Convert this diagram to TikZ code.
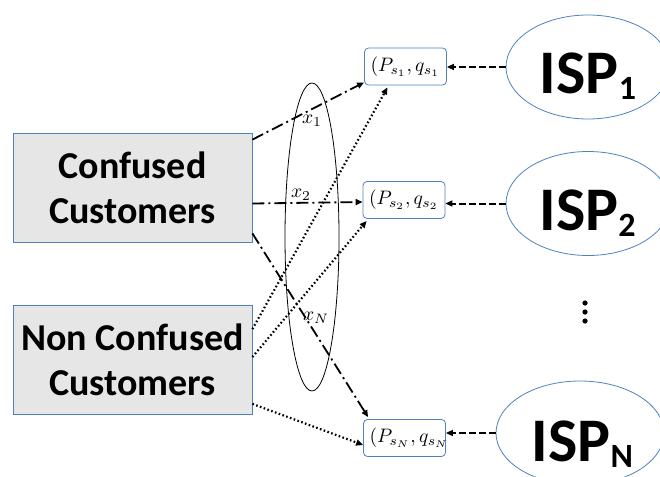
\documentclass[tikz,border=0pt]{standalone}
\usepackage{graphicx}
\usepackage{fontspec}
\setmainfont{Carlito}
\usetikzlibrary{arrows.meta,shapes.geometric}
\definecolor{boxblue}{RGB}{79,129,189}
\definecolor{boxgray}{RGB}{230,230,230}
\tikzset{
  custbox/.style={draw=boxblue,fill=boxgray,line width=0.8pt,minimum width=239pt,minimum height=109pt,inner sep=0pt,align=center,font=\bfseries\fontsize{38}{45}\selectfont},
  pqbox/.style={draw=boxblue,rounded corners=4pt,line width=0.8pt,minimum width=82pt,minimum height=37pt,inner xsep=6pt,inner ysep=0pt,text width=70pt,align=left},
  ispell/.style={ellipse,draw=boxblue,line width=0.8pt,minimum width=164pt,minimum height=104pt,inner sep=0pt},
  isptext/.style={anchor=base,inner sep=0pt,font=\bfseries\fontsize{62}{62}\selectfont},
  xlab/.style={inner sep=0pt},
  dashdot/.style={line width=1.8pt,dash pattern=on 12pt off 4pt on 2pt off 4pt,-{Triangle[length=7pt,width=6pt]}},
  dotline/.style={line width=2.2pt,dash pattern=on 1.6pt off 2.4pt,-{Triangle[length=7pt,width=6pt]}},
  ispdash/.style={line width=2pt,dash pattern=on 7pt off 3pt,-{Triangle[length=7pt,width=6pt]}},
  ellring/.style={ellipse,draw=black,line width=0.8pt,minimum width=54pt,minimum height=308pt,inner sep=0pt}
}
\newcommand{\ispsub}[1]{\raisebox{-6pt}{\fontsize{34}{34}\selectfont #1}}
\newcommand{\bigmath}[1]{\scalebox{1.95}{$#1$}}
\begin{document}
\begin{tikzpicture}[x=1pt,y=-1pt]
\useasboundingbox (0,0) rectangle (660,476);
\clip (0,0) rectangle (660,476);
% customer boxes
\node[custbox] (CC) at (132.5,187.5) {Confused\\Customers};
\node[custbox] (NC) at (132.5,360) {Non Confused\\Customers};
% ring
\node[ellring] (ring) at (312,237) {};
% price boxes
\node[pqbox] (b1) at (405.5,66.5) {\bigmath{(P_{s_1},q_{s_1}}};
\node[pqbox] (b2) at (404,200) {\bigmath{(P_{s_2},q_{s_2}}};
\node[pqbox] (bN) at (404.5,438) {\bigmath{(P_{s_N},q_{s_N}}};
% ISPs
\node[ispell] (ISP1) at (588,67) {};
\node[ispell] (ISP2) at (588,203.5) {};
\node[ispell,minimum width=168pt] (ISPN) at (580,433) {};
\node[isptext] (t1) at (588,93) {ISP\ispsub{1}};
\node[isptext] (t2) at (587.5,230) {ISP\ispsub{2}};
\node[isptext] (tN) at (582.5,461) {ISP\ispsub{N}};
% vertical dots
\fill (585,303) circle (2.6pt) (585,312) circle (2.6pt) (585,321) circle (2.6pt);
% ISP -> boxes
\draw[ispdash] (ISP1.west) -- (b1.east |- ISP1.west);
\draw[ispdash] (ISP2.west) -- (b2.east |- ISP2.west);
\draw[ispdash] (ISPN.west) -- (bN.east |- ISPN.west);
% confused customers
\draw[dashdot] ([yshift=-7pt]CC.north east) -- ([yshift=3pt]b1.south west);
\draw[dashdot] ([yshift=-16pt]CC.east) -- ([yshift=-2pt]b2.west);
\draw[dashdot] ([yshift=9pt]CC.south east) -- ([xshift=5pt,yshift=2pt]bN.north west);
% non confused customers
\draw[dotline] ([yshift=-24pt]NC.north east) -- ([xshift=-18pt,yshift=-2pt]b1.south);
\draw[dotline] ([yshift=3pt]NC.east) -- ([xshift=4pt,yshift=-2pt]b2.south west);
\draw[dotline] ([yshift=11pt]NC.south east) -- ([yshift=-7pt]bN.west);
% labels
\node[xlab] (x1) at (312,121) {\bigmath{x_1}};
\node[xlab] (x2) at (301,195) {\bigmath{x_2}};
\node[xlab] (xN) at (316,318) {\bigmath{x_N}};
\end{tikzpicture}
\end{document}
